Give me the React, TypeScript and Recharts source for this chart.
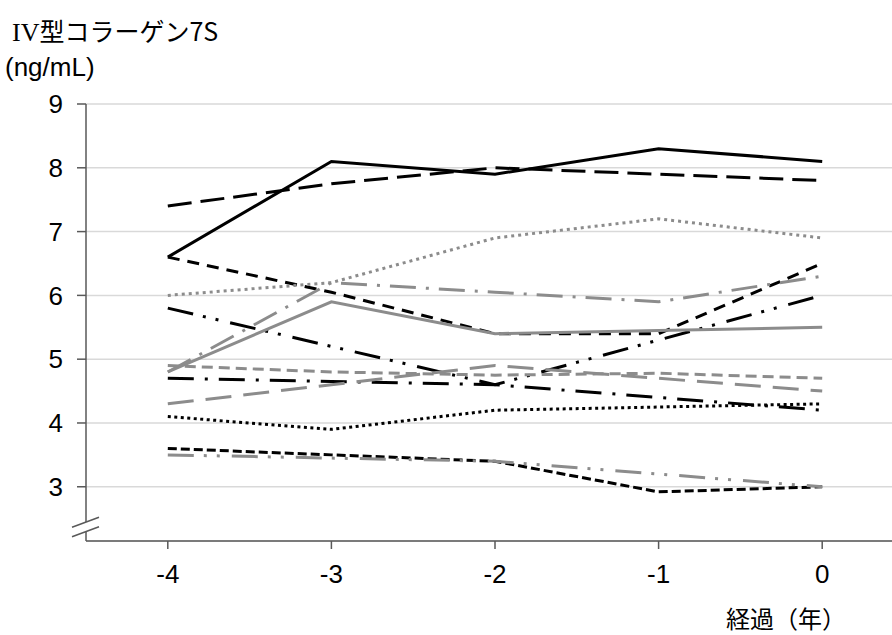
import { LineChart, Line, XAxis, YAxis, CartesianGrid } from "recharts";

// years before / after baseline
const years = [-4, -3, -2, -1, 0];

// type IV collagen 7S (ng/mL), one array per case
const caseA = [6.6, 8.1, 7.9, 8.3, 8.1];
const caseB = [7.4, 7.75, 8.0, 7.9, 7.8];
const caseC = [6.6, 6.05, 5.4, 5.4, 6.5];
const caseD = [6.0, 6.2, 6.9, 7.2, 6.9];
const caseE = [4.8, 6.2, 6.05, 5.9, 6.3];
const caseF = [5.8, 5.2, 4.6, 5.3, 6.0];
const caseG = [4.8, 5.9, 5.4, 5.45, 5.5];
const caseH = [4.9, 4.8, 4.75, 4.78, 4.7];
const caseI = [4.7, 4.65, 4.6, 4.4, 4.2];
const caseJ = [4.3, 4.6, 4.9, 4.7, 4.5];
const caseK = [4.1, 3.9, 4.2, 4.25, 4.3];
const caseL = [3.6, 3.5, 3.4, 2.92, 3.0];
const caseM = [3.5, 3.45, 3.4, 3.2, 3.0];

const yTicks = [3, 4, 5, 6, 7, 8, 9];

const BLACK = "#000000";
const GRAY = "#8c8c8c";

const series = [
  { key: "caseA", values: caseA, color: BLACK, dash: undefined },
  { key: "caseB", values: caseB, color: BLACK, dash: "24 9" },
  { key: "caseC", values: caseC, color: BLACK, dash: "12 8" },
  { key: "caseD", values: caseD, color: GRAY, dash: "3 4" },
  { key: "caseE", values: caseE, color: GRAY, dash: "26 10 3 10" },
  { key: "caseF", values: caseF, color: BLACK, dash: "26 10 3 10 3 12" },
  { key: "caseG", values: caseG, color: GRAY, dash: undefined },
  { key: "caseH", values: caseH, color: GRAY, dash: "11 6" },
  { key: "caseI", values: caseI, color: BLACK, dash: "26 11 3 11" },
  { key: "caseJ", values: caseJ, color: GRAY, dash: "26 12" },
  { key: "caseK", values: caseK, color: BLACK, dash: "3 3.5" },
  { key: "caseL", values: caseL, color: BLACK, dash: "9 4" },
  { key: "caseM", values: caseM, color: GRAY, dash: "26 10 3 10 3 12" },
];

const rows = years.map((year, i) => {
  const row: Record<string, number> = { year };
  series.forEach((s) => {
    row[s.key] = s.values[i];
  });
  return row;
});

const tickStyle = {
  fontFamily: "'Liberation Sans', Arial, sans-serif",
  fontSize: 26,
  fill: "#000",
};

const App = () => {
  return (
    <div
      style={{
        position: "absolute",
        top: 0,
        left: 0,
        width: 892,
        height: 635,
        overflow: "hidden",
        background: "#fff",
      }}
    >
      <div
        style={{
          position: "absolute",
          left: 12,
          top: 12,
          fontSize: 25,
          whiteSpace: "nowrap",
          fontFamily: "'Noto Sans CJK JP', sans-serif",
        }}
      >
        <span style={{ fontFamily: "'Liberation Serif', serif", fontSize: 26 }}>
          IV
        </span>
        型コラーゲン7S
      </div>
      <div
        style={{
          position: "absolute",
          left: 5,
          top: 52,
          fontSize: 26,
          fontFamily: "'Liberation Sans', Arial, sans-serif",
        }}
      >
        (ng/mL)
      </div>

      <LineChart
        width={904}
        height={635}
        data={rows}
        margin={{ top: 104, right: 0, bottom: 34, left: 0 }}
      >
        <CartesianGrid vertical={false} stroke="#d9d9d9" strokeWidth={1.5} />
        <XAxis
          dataKey="year"
          type="number"
          domain={[-4.5, 0.5]}
          ticks={years}
          height={60}
          tick={tickStyle}
          tickSize={8}
          tickMargin={16}
          stroke="#595959"
          strokeWidth={1.5}
        />
        <YAxis
          type="number"
          domain={[2.15, 9]}
          ticks={yTicks}
          allowDataOverflow
          width={86}
          tick={tickStyle}
          tickSize={9}
          tickMargin={14}
          stroke="#595959"
          strokeWidth={1.5}
        />
        {series.map((s) => (
          <Line
            key={s.key}
            dataKey={s.key}
            type="linear"
            stroke={s.color}
            strokeWidth={3}
            strokeDasharray={s.dash}
            dot={false}
            activeDot={false}
            isAnimationActive={false}
          />
        ))}
      </LineChart>

      {/* axis break marks on the value axis */}
      <svg
        width={120}
        height={60}
        style={{ position: "absolute", left: 0, top: 500 }}
      >
        <polygon points="72,27.3 99,17.3 99,26.7 72,36.7" fill="#fff" />
        <line x1={72} y1={27.3} x2={99} y2={17.3} stroke="#595959" strokeWidth={1.5} />
        <line x1={72} y1={36.7} x2={99} y2={26.7} stroke="#595959" strokeWidth={1.5} />
      </svg>

      <div
        style={{
          position: "absolute",
          left: 726,
          top: 600,
          fontSize: 24,
          whiteSpace: "nowrap",
          fontFamily: "'Noto Sans CJK JP', sans-serif",
        }}
      >
        経過（年）
      </div>
    </div>
  );
};

export default App;
